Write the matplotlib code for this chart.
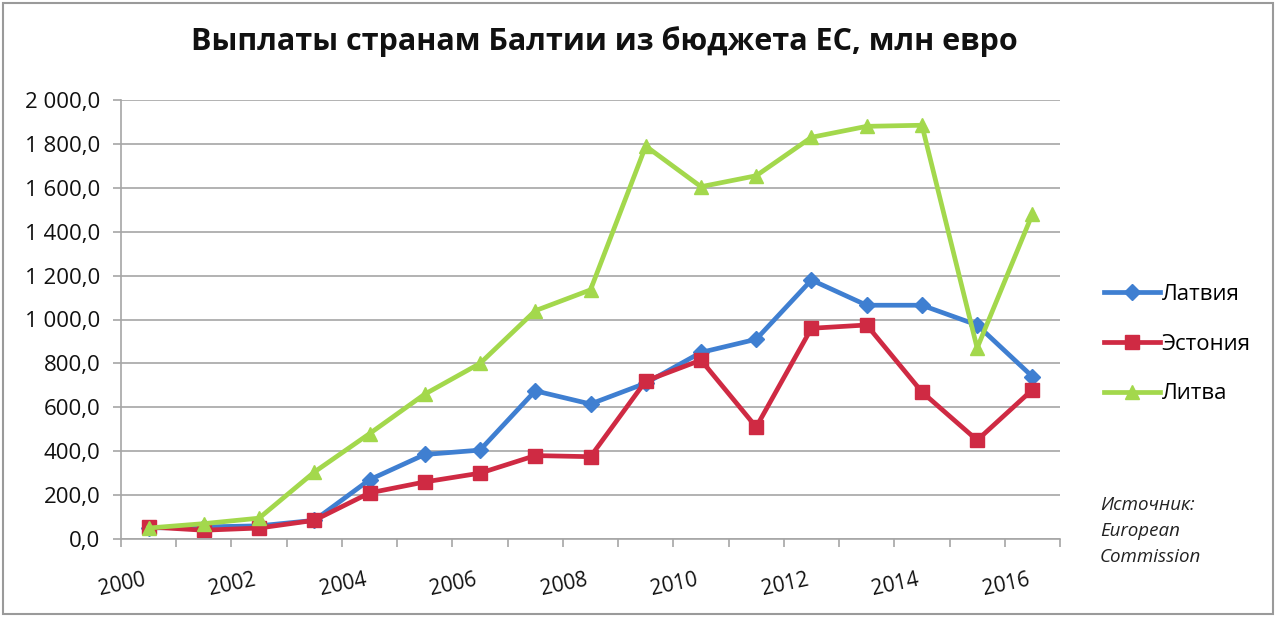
import matplotlib
matplotlib.use("Agg")
import matplotlib.pyplot as plt
from matplotlib.ticker import FuncFormatter, FixedLocator, NullFormatter
from matplotlib.patches import Rectangle

plt.rcParams['font.family'] = ['Open Sans', 'DejaVu Sans']

years = list(range(2000, 2017))
latvia = [50, 55, 60, 85, 270, 385, 405, 675, 615, 710, 850, 910, 1180, 1065, 1065, 975, 740]
estonia = [55, 40, 50, 85, 210, 260, 300, 380, 375, 720, 815, 510, 960, 975, 670, 450, 680]
lithuania = [50, 70, 95, 305, 480, 660, 800, 1040, 1135, 1790, 1605, 1655, 1830, 1880, 1885, 870, 1480]
series_names = ['Латвия', 'Эстония', 'Литва']
title = 'Выплаты странам Балтии из бюджета ЕС, млн евро'
source = ['Источник:', 'European', 'Commission']

colors = ['#3f7fd1', '#cf2a43', '#a3d84c']
markers = ['D', 's', '^']
msizes = [8, 10, 10]

fig = plt.figure(figsize=(12.8, 6.17), dpi=100)
ax = fig.add_axes([121/1280, 1-539/617, (1060-121)/1280, (539-100)/617])

x = list(range(len(years)))
data = [latvia, estonia, lithuania]
handles = []
for vals, c, m, ms, name in zip(data, colors, markers, msizes, series_names):
    ln, = ax.plot(x, vals, color=c, lw=3.4, marker=m, ms=ms, mec=c, mfc=c, label=name,
                  solid_joinstyle='round')
    handles.append(ln)

ax.set_xlim(-0.5, len(years) - 0.5)
ax.set_ylim(0, 2000)
ax.set_yticks(range(0, 2001, 200))
ax.yaxis.set_major_formatter(FuncFormatter(lambda v, p: f"{int(v):,}".replace(',', ' ') + ',0'))
ax.grid(axis='y', color='#a6a6a6', lw=1.2)
ax.set_axisbelow(True)

ax.xaxis.set_major_locator(FixedLocator([i - 0.5 for i in range(len(years) + 1)]))
ax.xaxis.set_major_formatter(NullFormatter())
for i, yr in enumerate(years):
    if yr % 2 == 0:
        ax.text(i - 0.1, -140, str(yr), rotation=12, ha='right', va='top', rotation_mode='anchor',
                fontsize=15, color='#111111', transform=ax.transData)

for s in ['top', 'right']:
    ax.spines[s].set_visible(False)
ax.spines['left'].set_color('#a6a6a6')
ax.spines['bottom'].set_color('#a6a6a6')
ax.spines['left'].set_linewidth(1.2)
ax.spines['bottom'].set_linewidth(1.2)
ax.tick_params(axis='x', length=6, color='#a6a6a6', width=1.2)
ax.tick_params(axis='y', length=6, color='#a6a6a6', width=1.2, labelsize=16, labelcolor='#111111', pad=9)

fig.text(604/1280, 1-42/617, title, ha='center', va='center', fontsize=22, fontweight='bold', color='#111111')

leg = fig.legend(handles=handles, labels=series_names, loc='center left',
                 bbox_to_anchor=(1084/1280, 1-344/617), frameon=False, fontsize=16,
                 handlelength=2.5, labelspacing=1.3, handletextpad=0.1)

for k, t in enumerate(source):
    fig.text(1100/1280, 1-(505 + 26*k)/617, t, ha='left', va='center', fontsize=13.5,
             style='italic', color='#222222')

fig.patches.append(Rectangle((3/1280, 3/617), 1270/1280, 611/617, transform=fig.transFigure,
                             fill=False, ec='#9a9a9a', lw=1.5))

fig.savefig('out.png', dpi=100)
